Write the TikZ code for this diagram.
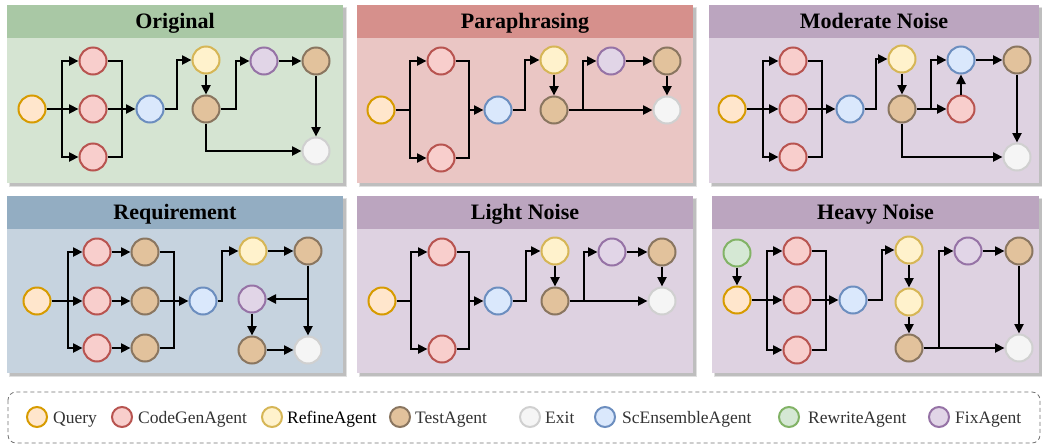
\documentclass[tikz,border=0pt]{standalone}
\usepackage{fontspec}
\setmainfont{Liberation Serif}
\usetikzlibrary{arrows.meta}
\definecolor{qF}{HTML}{FFE6CC}\definecolor{qD}{HTML}{D79B00}
\definecolor{cF}{HTML}{F8CECC}\definecolor{cD}{HTML}{B85450}
\definecolor{rF}{HTML}{FFF2CC}\definecolor{rD}{HTML}{D6B656}
\definecolor{tF}{HTML}{E2C29C}\definecolor{tD}{HTML}{8A7660}
\definecolor{eF}{HTML}{F5F5F5}\definecolor{eD}{HTML}{D0D0D0}
\definecolor{sF}{HTML}{DAE8FC}\definecolor{sD}{HTML}{6C8EBF}
\definecolor{wF}{HTML}{D5E8D4}\definecolor{wD}{HTML}{82B366}
\definecolor{fF}{HTML}{E1D5E7}\definecolor{fD}{HTML}{9673A6}
\definecolor{gT}{HTML}{A9C8A5}\definecolor{gB}{HTML}{D5E4D2}
\definecolor{pT}{HTML}{D6908C}\definecolor{pB}{HTML}{EAC6C4}
\definecolor{vT}{HTML}{BBA5BF}\definecolor{vB}{HTML}{DED2E1}
\definecolor{bT}{HTML}{93ADC2}\definecolor{bB}{HTML}{C6D3DF}
\definecolor{txt}{HTML}{333333}
\tikzset{
 base/.style={circle, minimum size=27pt, inner sep=0pt, line width=2pt},
 qry/.style={base, fill=qF, draw=qD},
 cg/.style={base, fill=cF, draw=cD},
 ref/.style={base, fill=rF, draw=rD},
 tst/.style={base, fill=tF, draw=tD},
 ext/.style={base, fill=eF, draw=eD},
 sce/.style={base, fill=sF, draw=sD},
 rw/.style={base, fill=wF, draw=wD},
 fx/.style={base, fill=fF, draw=fD},
 lg/.style={minimum size=20pt},
 ln/.style={line width=2.5pt},
 arr/.style={line width=2.5pt, -{Triangle[length=9.5pt,width=9pt]}},
 ttl/.style={font=\bfseries\fontsize{22}{22}\selectfont, anchor=base, inner sep=0pt},
 lt/.style={font=\fontsize{17.5}{17.5}\selectfont, text=txt, anchor=base west, inner sep=0pt},
}
\newcommand\mypanel[7]{%
 \fill[black, opacity=0.12] (#1+1.5,#2+1.5) rectangle (#3+3.5,#4+3.5);
 \fill[black, opacity=0.15] (#1+2.5,#2+2.5) rectangle (#3+2.5,#4+2.5);
 \fill[#6] (#1,#2) rectangle (#3,#4);
 \fill[#5] (#1,#2) rectangle (#3,#2+33);
 \node[ttl] at ({(#1+#3)/2},#2+23.5) {#7};
}
\begin{document}
\begin{tikzpicture}[x=1pt,y=-1pt]
\fill[white] (0,0) rectangle (1042,445);
\useasboundingbox (0,0) rectangle (1042,445);
\mypanel{7}{5}{343}{183}{gT}{gB}{Original}
\mypanel{357}{5}{693}{183}{pT}{pB}{Paraphrasing}
\mypanel{709}{5}{1039}{183}{vT}{vB}{Moderate Noise}
\mypanel{7}{196}{343}{373}{bT}{bB}{Requirement}
\mypanel{357}{196}{693}{373}{vT}{vB}{Light Noise}
\mypanel{712}{196}{1039}{373}{vT}{vB}{Heavy Noise}

% ---------- Panel A: Original
\node[qry] (Aq) at (32,109) {};
\node[cg] (Ac1) at (93,61) {};
\node[cg] (Ac2) at (93,109) {};
\node[cg] (Ac3) at (93,157) {};
\coordinate (Ab) at (62,109); \coordinate (Am) at (122,109);
\node[sce] (As) at (150,109) {};
\coordinate (Aj) at (177,109);
\node[ref] (Ar) at (206,60) {};
\node[tst] (At1) at (206,109) {};
\coordinate (Ak) at (236,109);
\node[fx] (Af) at (264,61) {};
\node[tst] (At2) at (316,61) {};
\node[ext] (Ae) at (316,151) {};
\draw[ln] (Aq) -- (Ab);
\draw[arr] (Ab) |- (Ac1); \draw[arr] (Ab) |- (Ac3); \draw[arr] (Ab) -- (Ac2);
\draw[ln] (Ac1) -| (Am); \draw[ln] (Ac3) -| (Am); \draw[ln] (Ac2) -- (Am);
\draw[arr] (Am) -- (As);
\draw[arr] (As) -- (Aj) |- (Ar);
\draw[arr] (Ar) -- (At1);
\draw[arr] (At1) -- (Ak) |- (Af);
\draw[arr] (Af) -- (At2);
\draw[arr] (At2) -- (Ae);
\draw[arr] (At1) |- (Ae);

% ---------- Panel B: Paraphrasing
\node[qry] (Bq) at (381,110) {};
\node[cg] (Bc1) at (441,61) {};
\node[cg] (Bc2) at (441,158) {};
\coordinate (Bb) at (410,110); \coordinate (Bm) at (469,110);
\node[sce] (Bs) at (498,110) {};
\coordinate (Bj) at (525,110);
\node[ref] (Br) at (554,60) {};
\node[tst] (Bt1) at (554,110) {};
\coordinate (Bk) at (583,110);
\node[fx] (Bf) at (611,61) {};
\node[tst] (Bt2) at (667,61) {};
\node[ext] (Be) at (667,110) {};
\draw[ln] (Bq) -- (Bb);
\draw[arr] (Bb) |- (Bc1); \draw[arr] (Bb) |- (Bc2);
\draw[ln] (Bc1) -| (Bm); \draw[ln] (Bc2) -| (Bm);
\draw[arr] (Bm) -- (Bs);
\draw[arr] (Bs) -- (Bj) |- (Br);
\draw[arr] (Br) -- (Bt1);
\draw[arr] (Bt1) -- (Be);
\draw[arr] (Bk) |- (Bf);
\draw[arr] (Bf) -- (Bt2);
\draw[arr] (Bt2) -- (Be);

% ---------- Panel C: Moderate Noise
\node[qry] (Cq) at (732,109) {};
\node[cg] (Cc1) at (793,61) {};
\node[cg] (Cc2) at (793,109) {};
\node[cg] (Cc3) at (793,157) {};
\coordinate (Cb) at (763,109); \coordinate (Cm) at (822,109);
\node[sce] (Cs) at (850,109) {};
\coordinate (Cj) at (876,109);
\node[ref] (Cr) at (902,59) {};
\node[tst] (Ct1) at (902,109) {};
\coordinate (Ck) at (931,109);
\node[sce] (Cs2) at (961,60) {};
\node[cg] (Cc4) at (961,109) {};
\node[tst] (Ct2) at (1017,60) {};
\node[ext] (Ce) at (1017,157) {};
\draw[ln] (Cq) -- (Cb);
\draw[arr] (Cb) |- (Cc1); \draw[arr] (Cb) |- (Cc3); \draw[arr] (Cb) -- (Cc2);
\draw[ln] (Cc1) -| (Cm); \draw[ln] (Cc3) -| (Cm); \draw[ln] (Cc2) -- (Cm);
\draw[arr] (Cm) -- (Cs);
\draw[arr] (Cs) -- (Cj) |- (Cr);
\draw[arr] (Cr) -- (Ct1);
\draw[arr] (Ct1) -- (Cc4);
\draw[arr] (Ck) |- (Cs2);
\draw[arr] (Cc4) -- (Cs2);
\draw[arr] (Cs2) -- (Ct2);
\draw[arr] (Ct2) -- (Ce);
\draw[arr] (Ct1) |- (Ce);

% ---------- Panel D: Requirement
\node[qry] (Dq) at (37,301) {};
\node[cg] (Dc1) at (97,252) {};
\node[cg] (Dc2) at (97,301) {};
\node[cg] (Dc3) at (97,348) {};
\node[tst] (Dt1) at (145,252) {};
\node[tst] (Dt2) at (145,301) {};
\node[tst] (Dt3) at (145,348) {};
\coordinate (Db) at (68,301); \coordinate (Dm) at (174,301);
\node[sce] (Ds) at (203,301) {};
\coordinate (Dj) at (222,301);
\node[ref] (Dr) at (253,251) {};
\node[tst] (Dt4) at (308,251) {};
\node[fx] (Df) at (252,299) {};
\coordinate (Dk) at (308,299);
\node[tst] (Dt5) at (252,350) {};
\node[ext] (De) at (308,350) {};
\draw[ln] (Dq) -- (Db);
\draw[arr] (Db) |- (Dc1); \draw[arr] (Db) |- (Dc3); \draw[arr] (Db) -- (Dc2);
\draw[arr] (Dc1) -- (Dt1); \draw[arr] (Dc2) -- (Dt2); \draw[arr] (Dc3) -- (Dt3);
\draw[ln] (Dt1) -| (Dm); \draw[ln] (Dt3) -| (Dm); \draw[ln] (Dt2) -- (Dm);
\draw[arr] (Dm) -- (Ds);
\draw[arr] (Ds) -- (Dj) |- (Dr);
\draw[arr] (Dr) -- (Dt4);
\draw[arr] (Dt4) -- (De);
\draw[arr] (Dk) -- (Df);
\draw[arr] (Df) -- (Dt5);
\draw[arr] (Dt5) -- (De);

% ---------- Panel E: Light Noise
\node[qry] (Eq) at (382,301) {};
\node[cg] (Ec1) at (442,252) {};
\node[cg] (Ec2) at (442,349) {};
\coordinate (Eb) at (411,301); \coordinate (Em) at (469,301);
\node[sce] (Es) at (498,301) {};
\coordinate (Ej) at (526,301);
\node[ref] (Er) at (555,251) {};
\node[tst] (Et1) at (555,301) {};
\coordinate (Ek) at (584,301);
\node[fx] (Ef) at (612,252) {};
\node[tst] (Et2) at (662,252) {};
\node[ext] (Ee) at (662,301) {};
\draw[ln] (Eq) -- (Eb);
\draw[arr] (Eb) |- (Ec1); \draw[arr] (Eb) |- (Ec2);
\draw[ln] (Ec1) -| (Em); \draw[ln] (Ec2) -| (Em);
\draw[arr] (Em) -- (Es);
\draw[arr] (Es) -- (Ej) |- (Er);
\draw[arr] (Er) -- (Et1);
\draw[arr] (Et1) -- (Ee);
\draw[arr] (Ek) |- (Ef);
\draw[arr] (Ef) -- (Et2);
\draw[arr] (Et2) -- (Ee);

% ---------- Panel F: Heavy Noise
\node[rw] (Fw) at (737,253) {};
\node[qry] (Fq) at (737,300) {};
\node[cg] (Fc1) at (797,251) {};
\node[cg] (Fc2) at (797,300) {};
\node[cg] (Fc3) at (797,350) {};
\coordinate (Fb) at (767,300); \coordinate (Fm) at (826,300);
\node[sce] (Fs) at (853,300) {};
\coordinate (Fj) at (882,300);
\node[ref] (Fr1) at (909,250) {};
\node[ref] (Fr2) at (909,302) {};
\node[tst] (Ft1) at (909,348) {};
\coordinate (Fk) at (939,348);
\node[fx] (Ff) at (968,251) {};
\node[tst] (Ft2) at (1019,251) {};
\node[ext] (Fe) at (1019,348) {};
\draw[arr] (Fw) -- (Fq);
\draw[ln] (Fq) -- (Fb);
\draw[arr] (Fb) |- (Fc1); \draw[arr] (Fb) |- (Fc3); \draw[arr] (Fb) -- (Fc2);
\draw[ln] (Fc1) -| (Fm); \draw[ln] (Fc3) -| (Fm); \draw[ln] (Fc2) -- (Fm);
\draw[arr] (Fm) -- (Fs);
\draw[arr] (Fs) -- (Fj) |- (Fr1);
\draw[arr] (Fr1) -- (Fr2);
\draw[arr] (Fr2) -- (Ft1);
\draw[arr] (Ft1) -- (Fe);
\draw[arr] (Fk) |- (Ff);
\draw[arr] (Ff) -- (Ft2);
\draw[arr] (Ft2) -- (Fe);

% ---------- Legend
\draw[black!55, line width=0.8pt, dash pattern=on 4pt off 3pt, rounded corners=8pt] (8,392) rectangle (1040,443);
\node[qry,lg] (Lq) at (37,417) {};  \node[lt] (Lqt) at (53,423) {Query};
\node[cg,lg] (Lc) at (122,417) {};  \node[lt] (Lct) at (138,423) {CodeGenAgent};
\node[ref,lg] (Lr) at (272,417) {}; \node[lt, text=black] (Lrt) at (287,423) {RefineAgent};
\node[tst,lg] (Lt) at (400,417) {}; \node[lt] (Ltt) at (415,423) {TestAgent};
\node[ext,lg] (Le) at (530,417) {}; \node[lt] (Let) at (545,423) {Exit};
\node[sce,lg] (Ls) at (605,417) {}; \node[lt] (Lst) at (622,423) {ScEnsembleAgent};
\node[rw,lg] (Lw) at (789,417) {};  \node[lt] (Lwt) at (808,423) {RewriteAgent};
\node[fx,lg] (Lf) at (939,417) {};  \node[lt] (Lft) at (955,423) {FixAgent};
\end{tikzpicture}
\end{document}
